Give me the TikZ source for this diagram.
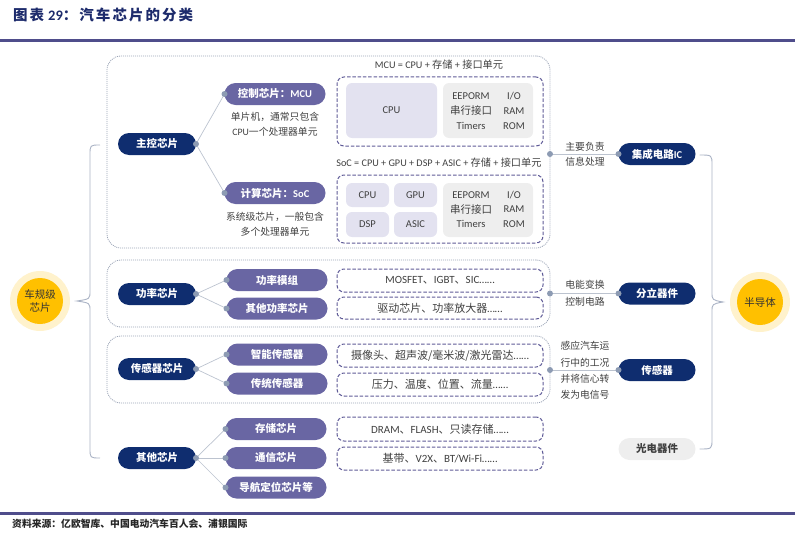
\documentclass[tikz,border=0pt]{standalone}
\usepackage{fontspec}
\setmainfont{Carlito}
\newfontfamily\cjk{Noto Sans CJK SC}
\newfontfamily\cjkt[LetterSpace=14]{Noto Sans CJK SC}
\newcommand\zhc[1]{{\cjk #1}}
\usetikzlibrary{calc}
\definecolor{navyc}{HTML}{0F2D6F}
\definecolor{purpc}{HTML}{6966A3}
\definecolor{lavc}{HTML}{E3E2F0}
\definecolor{grayc}{HTML}{EEEEEE}
\definecolor{dashc}{HTML}{5F5B97}
\definecolor{contc}{HTML}{9AA3B5}
\definecolor{linkc}{HTML}{BCC3CF}
\definecolor{dotc}{HTML}{8D9BB3}
\definecolor{bracec}{HTML}{A9B2C4}
\definecolor{titlec}{HTML}{1D2B6C}
\definecolor{rulec}{HTML}{4F4D8B}
\definecolor{goldc}{HTML}{FFC000}
\definecolor{goldlc}{HTML}{FFF2CC}
\definecolor{textc}{HTML}{404040}
\begin{document}
\begin{tikzpicture}[x=1pt,y=-1pt,
  navy/.style={fill=navyc,text=white,rounded corners=11pt,minimum width=78pt,minimum height=22pt,inner sep=0pt,outer sep=0pt,font=\bfseries\fontsize{10.5}{12}\selectfont},
  purp/.style={fill=purpc,text=white,rounded corners=11pt,minimum width=101pt,minimum height=22pt,inner sep=0pt,outer sep=0pt,font=\bfseries\fontsize{10.5}{12}\selectfont},
  lgray/.style={fill=grayc,text=textc,rounded corners=11pt,minimum width=77pt,minimum height=22pt,inner sep=0pt,outer sep=0pt,font=\bfseries\fontsize{10.5}{12}\selectfont},
  desc/.style={text=textc,align=center,inner sep=0pt,font=\fontsize{9.8}{15}\selectfont},
  cont/.style={draw=contc,line width=0.8pt,dash pattern=on 1pt off 1pt,rounded corners=14pt,inner sep=0pt,outer sep=0pt},
  dbox/.style={draw=dashc,line width=1pt,dash pattern=on 3.5pt off 1.8pt,rounded corners=7pt,inner sep=0pt,outer sep=0pt,minimum width=206pt,text=textc,font=\fontsize{11}{12}\selectfont},
  lav/.style={fill=lavc,rounded corners=6pt,inner sep=0pt,text=textc,font=\fontsize{10.5}{12}\selectfont},
  gbox/.style={fill=grayc,rounded corners=6pt,inner sep=0pt},
  gtext/.style={text=textc,inner sep=0pt,font=\fontsize{10.5}{12}\selectfont},
  ftext/.style={text=textc,inner sep=0pt,font=\fontsize{10.2}{11}\selectfont},
  link/.style={draw=linkc,line width=0.7pt},
  dot/.style={circle,fill=dotc,inner sep=0pt,minimum size=6pt},
  brace/.style={draw=bracec,line width=0.9pt},
  rule/.style={draw=rulec,line width=2.2pt}]
\useasboundingbox (0,0) rectangle (795,535);
% title and rules
\node[anchor=west,text=titlec,inner sep=0pt,font=\bfseries\fontsize{14.5}{16}\selectfont] (title) at (13,15) {{\cjkt 图表}\hspace{4pt}29{\cjkt ：汽车芯片的分类}};
\coordinate (rtl) at (0,40.5); \coordinate (rtr) at (795,40.5);
\coordinate (rbl) at (0,513.5); \coordinate (rbr) at (795,513.5);
\draw[rule] (rtl) -- (rtr);
\draw[rule] (rbl) -- (rbr);
\node[anchor=west,inner sep=0pt,text=black!85,font=\bfseries\fontsize{9.8}{11}\selectfont] (src) at (12,524) {\zhc{资料来源：亿欧智库、中国电动汽车百人会、浦银国际}};
% containers
\node[cont,minimum width=443pt,minimum height=192pt] (c1) at (328.5,152) {};
\node[cont,minimum width=443pt,minimum height=67pt] (c2) at (328.5,293.5) {};
\node[cont,minimum width=443pt,minimum height=67pt] (c3) at (328.5,369.5) {};
% circles
\node[circle,fill=goldlc,minimum size=60pt,inner sep=0pt] (carO) at (40,301) {};
\node[circle,fill=goldc,minimum size=46pt,inner sep=0pt,align=center,text=black!80,font=\fontsize{10.5}{13}\selectfont] (car) at (40,301) {\zhc{车规级}\\\zhc{芯片}};
\node[circle,fill=goldlc,minimum size=60pt,inner sep=0pt] (semiO) at (760,302) {};
\node[circle,fill=goldc,minimum size=46pt,inner sep=0pt,text=black!80,font=\fontsize{10.5}{13}\selectfont] (semi) at (760,302) {\zhc{半导体}};
% navy nodes
\node[navy] (zk) at (157,144) {\zhc{主控芯片}};
\node[navy] (gl) at (157,294) {\zhc{功率芯片}};
\node[navy] (cg) at (157,369) {\zhc{传感器芯片}};
\node[navy] (qt) at (157,458) {\zhc{其他芯片}};
% purple nodes
\node[purp] (mcu) at (275,94) {\zhc{控制芯片：}MCU};
\node[purp] (soc) at (275,193) {\zhc{计算芯片：}SoC};
\node[purp] (glmz) at (277,280) {\zhc{功率模组}};
\node[purp] (qtgl) at (277,308.5) {\zhc{其他功率芯片}};
\node[purp] (zncg) at (277,354.5) {\zhc{智能传感器}};
\node[purp] (ctcg) at (277,383.5) {\zhc{传统传感器}};
\node[purp] (cc) at (276,429) {\zhc{存储芯片}};
\node[purp] (tx) at (276,458) {\zhc{通信芯片}};
\node[purp] (dh) at (276,487.5) {\zhc{导航定位芯片等}};
% descriptions
\node[desc] (dmcu) at (275,124.5) {\zhc{单片机，通常只包含}\\CPU\zhc{一个处理器单元}};
\node[desc] (dsoc) at (275,224) {\zhc{系统级芯片，一般包含}\\\zhc{多个处理器单元}};
% left links
\foreach \a/\b in {zk/mcu,zk/soc,gl/glmz,gl/qtgl,cg/zncg,cg/ctcg,qt/cc,qt/tx,qt/dh}{
  \draw[link] (\a.east) -- (\b.west);
  \node[dot] at (\b.west) {};
}
\foreach \a in {zk,gl,cg,qt}{\node[dot] at (\a.east) {};}
% MCU block
\node[ftext] (fmcu) at (439,65) {MCU = CPU + \zhc{存储} + \zhc{接口单元}};
\node[dbox,minimum height=69pt] (bmcu) at (440,111.5) {};
\node[lav,minimum width=91pt,minimum height=55pt] (mcpu) at (391.5,110.5) {CPU};
\node[gbox,minimum width=90pt,minimum height=55pt] (mg) at (488,110.5) {};
\node[gtext] (m11) at (471,96) {EEPORM};
\node[gtext] (m12) at (514,96) {I/O};
\node[gtext] (m21) at (471,111) {\zhc{串行接口}};
\node[gtext] (m22) at (514,111) {RAM};
\node[gtext] (m31) at (471,126) {Timers};
\node[gtext] (m32) at (514,126) {ROM};
% SoC block
\node[ftext] (fsoc) at (439,163) {SoC = CPU + GPU + DSP + ASIC + \zhc{存储} + \zhc{接口单元}};
\node[dbox,minimum height=68pt] (bsoc) at (440,209) {};
\node[lav,minimum width=43pt,minimum height=24pt] (scpu) at (367.5,195) {CPU};
\node[lav,minimum width=43pt,minimum height=24pt] (sgpu) at (415.5,195) {GPU};
\node[lav,minimum width=43pt,minimum height=25pt] (sdsp) at (367.5,224.5) {DSP};
\node[lav,minimum width=43pt,minimum height=25pt] (sasic) at (415.5,224.5) {ASIC};
\node[gbox,minimum width=90pt,minimum height=54pt] (sg) at (488,210) {};
\node[gtext] (s11) at (471,195) {EEPORM};
\node[gtext] (s12) at (514,195) {I/O};
\node[gtext] (s21) at (471,209.5) {\zhc{串行接口}};
\node[gtext] (s22) at (514,209.5) {RAM};
\node[gtext] (s31) at (471,224) {Timers};
\node[gtext] (s32) at (514,224) {ROM};
% detail boxes
\node[dbox,minimum height=23pt] (b1) at (440,280.5) {MOSFET\zhc{、}IGBT\zhc{、}SIC……};
\node[dbox,minimum height=22pt] (b2) at (440,308) {\zhc{驱动芯片、功率放大器}……};
\node[dbox,minimum height=23pt] (b3) at (440,355.5) {\zhc{摄像头、超声波/毫米波/激光雷达}……};
\node[dbox,minimum height=23pt] (b4) at (440,384.5) {\zhc{压力、温度、位置、流量}……};
\node[dbox,minimum height=24pt] (b5) at (440,429) {DRAM\zhc{、}FLASH\zhc{、只读存储}……};
\node[dbox,minimum height=23pt] (b6) at (440,458.5) {\zhc{基带、}V2X\zhc{、}BT/Wi-Fi……};
% right side nodes
\node[navy,minimum width=77pt] (ic) at (657,154) {\zhc{集成电路}IC};
\node[navy,minimum width=77pt] (fl) at (657,293.5) {\zhc{分立器件}};
\node[navy,minimum width=77pt] (cgq) at (657,370) {\zhc{传感器}};
\node[lgray] (gd) at (657,449) {\zhc{光电器件}};
\coordinate (r1) at (c1.east |- ic);
\coordinate (r2) at (c2.east |- fl);
\coordinate (r3) at (c3.east |- cgq);
\foreach \a/\b in {r1/ic,r2/fl,r3/cgq}{
  \draw[link] (\a) -- (\b.west);
  \node[dot] at (\a) {};
  \node[dot] at (\b.west) {};
}
\node[desc] (l1) at (585,154.5) {\zhc{主要负责}\\\zhc{信息处理}};
\node[desc,font=\fontsize{9.8}{17}\selectfont] (l2) at (585,293.5) {\zhc{电能变换}\\\zhc{控制电路}};
\node[desc,font=\fontsize{9.8}{16.3}\selectfont] (l3) at (585,370.5) {\zhc{感应汽车运}\\\zhc{行中的工况}\\\zhc{并将信心转}\\\zhc{发为电信号}};
% braces
\coordinate (lbT) at ($(zk.west)+(-18,1)$);
\coordinate (lbB) at ($(qt.west)+(-18,0)$);
\coordinate (lbtip) at (77,301);
\draw[brace] (lbT) .. controls (90,145) .. (90,155) -- (90,291) .. controls (90,299) .. (lbtip) .. controls (90,303) .. (90,311) -- (90,448) .. controls (90,458) .. (lbB);
\coordinate (rbT) at ($(ic.east)+(4,1)$);
\coordinate (rbB) at ($(gd.east)+(4,0)$);
\coordinate (rbtip) at (723,302);
\draw[brace] (rbT) .. controls (712,155) .. (712,165) -- (712,292) .. controls (712,300) .. (rbtip) .. controls (712,304) .. (712,312) -- (712,439) .. controls (712,449) .. (rbB);
\end{tikzpicture}
\end{document}
